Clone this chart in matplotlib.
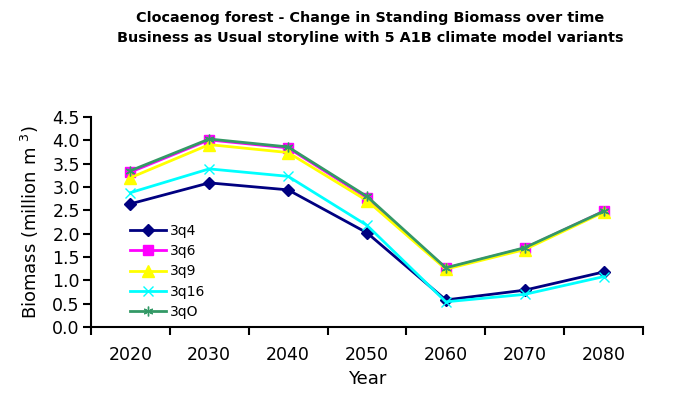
import numpy as np
import matplotlib.pyplot as plt
from matplotlib.ticker import FixedLocator, NullFormatter, MultipleLocator

years = ['2020', '2030', '2040', '2050', '2060', '2070', '2080']

q4 = [2.64, 3.09, 2.94, 2.02, 0.58, 0.79, 1.18]
q6 = [3.32, 4.01, 3.84, 2.77, 1.26, 1.69, 2.48]
q9 = [3.20, 3.91, 3.74, 2.71, 1.24, 1.66, 2.46]
q16 = [2.88, 3.39, 3.23, 2.18, 0.54, 0.70, 1.08]
qO = [3.35, 4.03, 3.86, 2.80, 1.27, 1.70, 2.48]

series = [
    ('3q4', q4, '#000080', 'D', 6),
    ('3q6', q6, '#FF00FF', 's', 7),
    ('3q9', q9, '#FFFF00', '^', 8),
    ('3q16', q16, '#00FFFF', 'x', 7),
    ('3qO', qO, '#339966', (6, 2, 0), 7),
]

fig = plt.figure(figsize=(6.94, 4.01), dpi=100)
ax = fig.add_axes([0.131, 0.1845, 0.7955, 0.5235])

x = np.arange(len(years))
for name, vals, col, mk, ms in series:
    ax.plot(x, vals, color=col, marker=mk, markersize=ms, linewidth=2,
            markeredgecolor=col, markerfacecolor=col, label=name)

ax.set_xlim(-0.5, len(years) - 0.5)
ax.set_ylim(0, 4.5)
ax.xaxis.set_major_locator(FixedLocator(np.arange(-0.5, len(years), 1.0)))
ax.xaxis.set_major_formatter(NullFormatter())
ax.set_xticks(x, years, minor=True)
ax.tick_params(axis='x', which='major', direction='out', length=6, width=1.5)
ax.tick_params(axis='x', which='minor', length=0, pad=14, labelsize=12.5)
ax.yaxis.set_major_locator(MultipleLocator(0.5))
ax.yaxis.set_major_formatter(plt.FuncFormatter(lambda v, p: f'{v:.1f}'))
ax.tick_params(axis='y', direction='out', length=6, width=1.5, labelsize=12.5,
               pad=2)

for s in ['top', 'right']:
    ax.spines[s].set_visible(False)
for s in ['left', 'bottom']:
    ax.spines[s].set_linewidth(1.5)

ax.set_xlabel('Year', fontsize=13, labelpad=4)
ax.set_ylabel('Biomass (million m $^3$)', fontsize=13, labelpad=8)

fig.suptitle('Clocaenog forest - Change in Standing Biomass over time\n'
             'Business as Usual storyline with 5 A1B climate model variants',
             x=0.533, y=0.972, fontsize=10.4, fontweight='bold', linespacing=1.5)

ax.legend(loc='lower left', bbox_to_anchor=(0.06, 0.012), frameon=False,
          fontsize=10, handlelength=2.6, labelspacing=0.45, borderaxespad=0,
          handletextpad=0.3)

fig.savefig('out.png', dpi=100)
